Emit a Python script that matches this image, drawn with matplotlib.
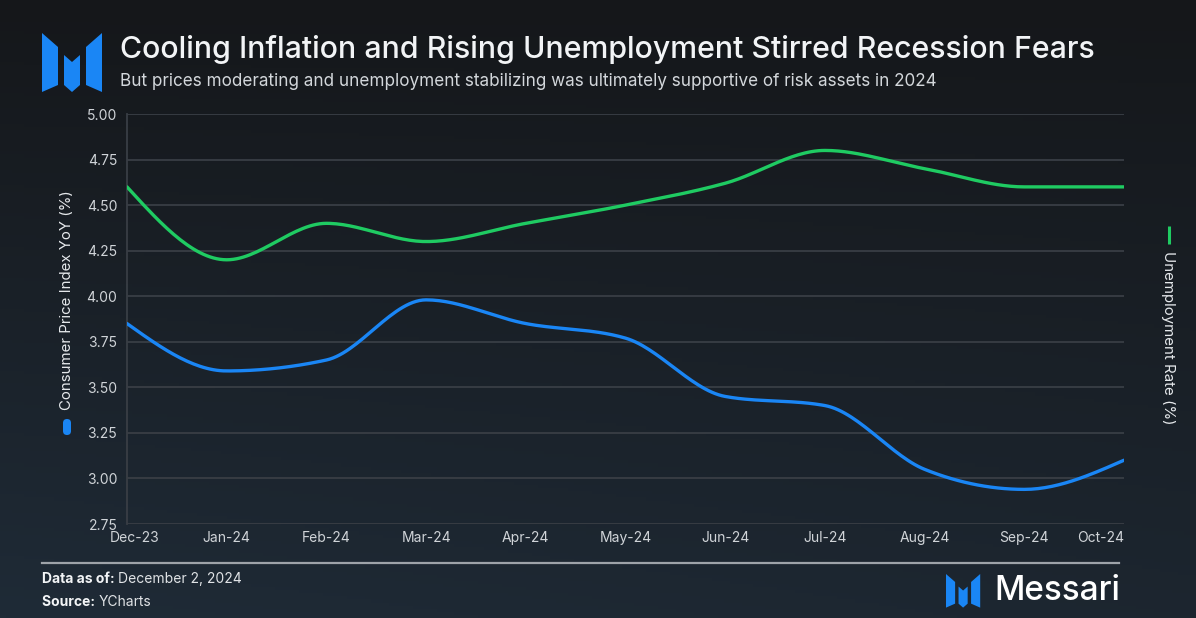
import numpy as np
import matplotlib
matplotlib.use("Agg")
from matplotlib import pyplot as plt
from matplotlib.patches import Polygon, FancyBboxPatch
from matplotlib.transforms import ScaledTranslation

# data
months = ["Dec-23", "Jan-24", "Feb-24", "Mar-24", "Apr-24", "May-24",
          "Jun-24", "Jul-24", "Aug-24", "Sep-24", "Oct-24"]
cpi = [3.85, 3.59, 3.65, 3.98, 3.85, 3.77, 3.45, 3.40, 3.05, 2.94, 3.10]
unemployment = [4.60, 4.20, 4.40, 4.30, 4.40, 4.50, 4.62, 4.80, 4.70, 4.60, 4.60]
yticks = [2.75, 3.00, 3.25, 3.50, 3.75, 4.00, 4.25, 4.50, 4.75, 5.00]

W, H = 1196, 618
BLUE = "#1a86f5"
GREEN = "#1fcb62"
GRID = "#393e45"
TICK = "#d0d4d8"

plt.rcParams['font.family'] = ['Inter', 'DejaVu Sans']


def monotone_curve(x, y, n=30):
    # monotone cubic (same idea as d3 curveMonotoneX) for smooth drawing
    x = np.asarray(x, float)
    y = np.asarray(y, float)
    h = np.diff(x)
    d = np.diff(y) / h
    m = np.zeros_like(y)
    for i in range(1, len(y) - 1):
        s0, s1 = d[i - 1], d[i]
        p = (s0 * h[i] + s1 * h[i - 1]) / (h[i - 1] + h[i])
        m[i] = (np.sign(s0) + np.sign(s1)) * min(abs(s0), abs(s1), 0.5 * abs(p))
    m[0] = (3 * d[0] - m[1]) / 2
    m[-1] = (3 * d[-1] - m[-2]) / 2
    xs, ys = [], []
    for i in range(len(h)):
        t = np.linspace(0, 1, n, endpoint=(i == len(h) - 1))
        h00 = 2 * t**3 - 3 * t**2 + 1
        h10 = t**3 - 2 * t**2 + t
        h01 = -2 * t**3 + 3 * t**2
        h11 = t**3 - t**2
        xs.append(x[i] + t * h[i])
        ys.append(h00 * y[i] + h10 * h[i] * m[i] + h01 * y[i + 1] + h11 * h[i] * m[i + 1])
    return np.concatenate(xs), np.concatenate(ys)


fig = plt.figure(figsize=(W / 100, H / 100), dpi=100)

# background gradient + decorations in pixel coordinates
bg = fig.add_axes([0, 0, 1, 1])
bg.set_xlim(0, W)
bg.set_ylim(H, 0)
bg.axis("off")
yy, xx = np.mgrid[0:1:200j, 0:1:200j]
top = np.array([0x15, 0x17, 0x1a]) / 255
bot = np.array([0x1f, 0x2b, 0x37]) / 255
w = np.clip(0.75 * yy + 0.25 * (1 - xx) * yy, 0, 1)[..., None]
img = top * (1 - w) + bot * w
bg.imshow(img, extent=[0, W, H, 0], aspect="auto", zorder=0)


def logo(ax, x0, y0, s):
    pieces = [
        [(0, 0), (16, 14), (16, 52), (0, 59)],
        [(22, 22), (30, 29), (38, 22), (38, 52), (30, 59), (22, 52)],
        [(44, 14), (60, 0), (60, 59), (44, 52)],
    ]
    for pts in pieces:
        ax.add_patch(Polygon([(x0 + px * s, y0 + py * s) for px, py in pts],
                             closed=True, color=BLUE, lw=0, zorder=2))


logo(bg, 42, 33, 1.0)
logo(bg, 946, 574, 0.57)

bg.text(120, 50, "Cooling Inflation and Rising Unemployment Stirred Recession Fears",
        color="#f2f4f6", fontsize=21.8, fontweight="medium", va="center", ha="left")
bg.text(120, 81, "But prices moderating and unemployment stabilizing was ultimately supportive of risk assets in 2024",
        color="#d3d7db", fontsize=12.3, va="center", ha="left")

bg.plot([42, 1119], [563, 563], color="#9ea3a9", lw=1.6, zorder=2)
t1 = bg.text(42, 579, "Data as of: ", color="#f2f4f6", fontsize=10, fontweight="bold", va="center")
bg.annotate("December 2, 2024", xy=(1, 0.5), xycoords=t1, color="#e0e3e6",
            fontsize=10, va="center", ha="left")
t2 = bg.text(42, 602, "Source: ", color="#f2f4f6", fontsize=10, fontweight="bold", va="center")
bg.annotate("YCharts", xy=(1, 0.5), xycoords=t2, color="#e0e3e6",
            fontsize=10, va="center", ha="left")
bg.text(1120, 591, "Messari", color="#ffffff", fontsize=24, fontweight="medium",
        va="center", ha="right")

# legend markers on the sides
bg.add_patch(FancyBboxPatch((63, 419), 8, 16, boxstyle="round,pad=0,rounding_size=4",
                            color=BLUE, lw=0, zorder=2))
bg.text(67, 410, "Consumer Price Index YoY (%)", color="#e6e9ec", fontsize=10.8,
        rotation=90, ha="center", va="bottom")
bg.plot([1169, 1169], [226, 244], color=GREEN, lw=2.2, solid_capstyle="butt")
bg.text(1168, 251, "Unemployment Rate (%)", color="#e6e9ec", fontsize=10.8,
        rotation=270, ha="center", va="top")

# main chart
ax = fig.add_axes([127 / W, 1 - 524 / H, (1124 - 127) / W, (524 - 114) / H])
ax.patch.set_alpha(0)
x = np.arange(len(months))
cx, cy = monotone_curve(x, unemployment)
ax.plot(cx, cy, color=GREEN, lw=2.4, zorder=3, solid_capstyle="round")
cx, cy = monotone_curve(x, cpi)
ax.plot(cx, cy, color=BLUE, lw=2.4, zorder=3, solid_capstyle="round")

ax.set_xlim(0, len(months) - 1)
ax.set_ylim(2.75, 5.00)
ax.set_yticks(yticks)
ax.set_yticklabels([f"{v:.2f}" for v in yticks])
ax.set_xticks(x)
ax.set_xticklabels(months)
ax.tick_params(axis="both", length=0, colors=TICK, labelsize=10)
ax.tick_params(axis="y", pad=7)
ax.tick_params(axis="x", pad=5)
labels = ax.get_xticklabels()
labels[0].set_transform(labels[0].get_transform() + ScaledTranslation(8 / 100, 0, fig.dpi_scale_trans))
labels[-1].set_horizontalalignment("right")
ax.grid(axis="y", color=GRID, lw=1.3)
for s in ["top", "right", "bottom"]:
    ax.spines[s].set_visible(False)
ax.spines["left"].set_color(GRID)
ax.spines["left"].set_linewidth(1.3)

fig.savefig("out.png", dpi=100)
